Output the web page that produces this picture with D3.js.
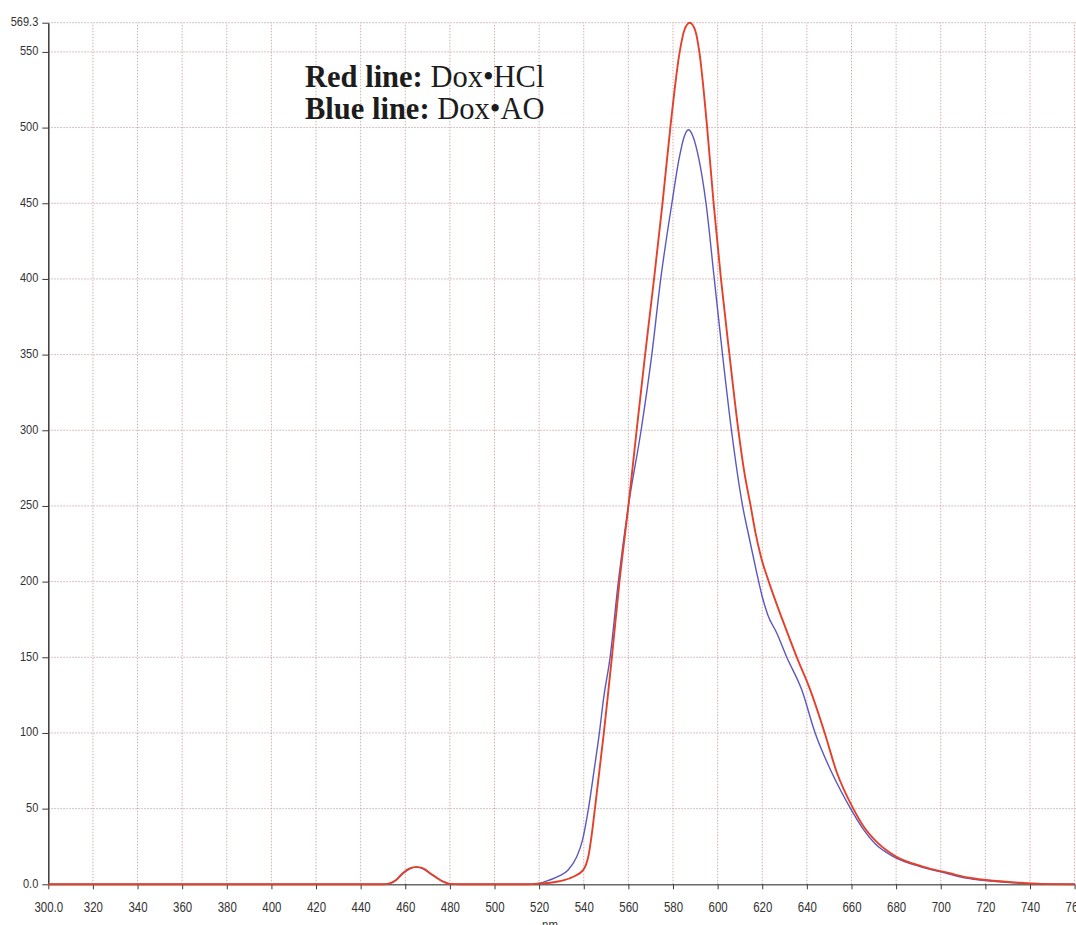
<!DOCTYPE html>
<html>
<head>
<meta charset="utf-8">
<script src="https://cdn.jsdelivr.net/npm/d3@7/dist/d3.min.js"></script>
<style>
  html, body { margin: 0; padding: 0; background: #fff; overflow: hidden; }
  svg { display: block; }
</style>
</head>
<body>
<script>
// Emission spectra, wavelength (nm) vs. intensity
const xTicks = [300, 320, 340, 360, 380, 400, 420, 440, 460, 480, 500, 520, 540, 560, 580, 600, 620, 640, 660, 680, 700, 720, 740, 760];
const yTicks = [0, 50, 100, 150, 200, 250, 300, 350, 400, 450, 500, 550, 569.3];
const yMax = 569.3;

// Dox•HCl
const redHCl = [
  [300, 0], [450, 0], [453, 0.6], [456, 3], [459, 7.5], [462, 10.5], [465, 11.5], [468, 10.5],
  [471, 7.5], [474, 4.5], [477, 1.8], [480, 0.3], [485, 0], [515, 0], [520, 0.5], [525, 1],
  [529, 2], [535.3, 5], [539.8, 9.5], [541, 13], [542, 18], [543.5, 32], [545, 50], [549, 100],
  [550.6, 121.8], [552.6, 150], [556, 200], [560, 250], [563.7, 300], [567.5, 350], [571.5, 400],
  [575.3, 450], [578.8, 500], [583, 550], [585, 564], [587.5, 569.3], [590, 564], [591.8, 550],
  [595.3, 500], [598.2, 450], [601.5, 400], [605.3, 350], [609.3, 300], [612, 272], [614.8, 250],
  [617, 232], [619.5, 216], [622.7, 201], [629, 175], [635.5, 150], [641.5, 128.5], [648, 100],
  [653.4, 74], [660.8, 50], [666, 37], [672, 27], [680, 18.3], [692, 11.7], [704, 7.3], [712, 4.5],
  [720.6, 2.8], [735.5, 1], [745, 0.3], [760, 0]
];

// Dox•AO
const blueAO = [
  [300, 0], [450, 0], [453, 0.5], [456, 2.8], [459, 7.2], [462, 10.2], [465, 11.2], [468, 10.2],
  [471, 7.2], [474, 4.3], [477, 1.7], [480, 0.3], [485, 0], [515, 0], [520, 0.6], [525, 3],
  [529, 5.5], [533, 9.5], [536.8, 18], [539.4, 29], [542.1, 50], [544.6, 75], [547, 100],
  [548.8, 121.8], [551.8, 150], [555.5, 200], [560, 250], [565.7, 300], [570.5, 350],
  [574.5, 400], [579.5, 450], [582.8, 480], [585, 494], [587, 498.6], [589, 494], [591.5, 480],
  [594.8, 450], [598.5, 400], [602.2, 350], [606.2, 300], [611.2, 250], [614.3, 228],
  [617.5, 206], [620, 190], [622.5, 178], [626.5, 166], [631, 150], [637.7, 128.5], [643.7, 100],
  [651.1, 74], [659.6, 50], [665, 37], [670.5, 27], [678.8, 18.3], [690.7, 11.7], [702.6, 7.3],
  [710, 4.5], [717.7, 2.8], [735, 0.8], [745, 0.2], [760, 0]
];

const W = 1076, H = 925;
const svg = d3.select("body").append("svg").attr("width", W).attr("height", H);

const x = d3.scaleLinear().domain([300, 760]).range([48.3, 1074.6]);
const y = d3.scaleLinear().domain([0, yMax]).range([884.3, 22.7]);

// dotted grid
const grid = svg.append("g")
  .attr("stroke", "#d0adad")
  .attr("stroke-width", 1)
  .attr("stroke-dasharray", "1.5,1.5");
grid.selectAll("line.h").data(yTicks.filter(d => d > 0)).join("line")
  .attr("class", "h")
  .attr("x1", x(300)).attr("x2", W)
  .attr("y1", d => y(d)).attr("y2", d => y(d));
grid.selectAll("line.v").data(xTicks.filter(d => d > 300)).join("line")
  .attr("class", "v")
  .attr("x1", d => x(d)).attr("x2", d => x(d))
  .attr("y1", y(0)).attr("y2", y(yMax));

// axes
const axisColor = "#3a3a3a";
const yAxis = svg.append("g")
  .attr("transform", `translate(${x(300)},0)`)
  .call(d3.axisLeft(y).tickValues(yTicks).tickSize(6).tickSizeOuter(0)
    .tickFormat(d => (d === 0 || d === yMax) ? d.toFixed(1) : String(d)));
yAxis.select(".domain").attr("stroke", axisColor).attr("stroke-width", 1.5);
yAxis.selectAll(".tick line").attr("stroke", axisColor);
const ySx = 0.92;
yAxis.selectAll(".tick text")
  .attr("font-family", "'Liberation Sans', Arial, sans-serif")
  .attr("font-size", 12)
  .attr("fill", "#333")
  .attr("dy", null)
  .attr("y", 2.8)
  .attr("x", -10 / ySx)
  .attr("transform", `scale(${ySx},1)`);

const xAxis = svg.append("g")
  .attr("transform", `translate(0,${y(0)})`)
  .call(d3.axisBottom(x).tickValues(xTicks).tickSize(5).tickSizeOuter(0)
    .tickFormat(d => d === 300 ? "300.0" : String(d)));
xAxis.select(".domain").attr("stroke", "#6a6a6a").attr("stroke-width", 1.5);
xAxis.selectAll(".tick line").attr("stroke", axisColor);
const xSx = 0.74;
xAxis.selectAll(".tick text")
  .attr("font-family", "'Liberation Sans', Arial, sans-serif")
  .attr("font-size", 15.5)
  .attr("fill", "#333")
  .attr("dy", null)
  .attr("y", 27.5)
  .attr("transform", `scale(${xSx},1)`);

// unit label below the axis
svg.append("text")
  .attr("transform", `translate(550,930) scale(${xSx},1)`)
  .attr("text-anchor", "middle")
  .attr("font-family", "'Liberation Sans', Arial, sans-serif")
  .attr("font-size", 15.5)
  .attr("fill", "#333")
  .text("nm");

// spectra
const line = d3.line()
  .x(d => x(d[0]))
  .y(d => y(d[1]))
  .curve(d3.curveMonotoneX);

svg.append("path")
  .datum(blueAO)
  .attr("fill", "none")
  .attr("stroke", "#5a58c0")
  .attr("stroke-width", 1.4)
  .attr("d", line);

svg.append("path")
  .datum(redHCl)
  .attr("fill", "none")
  .attr("stroke", "#e5402a")
  .attr("stroke-width", 1.9)
  .attr("d", line);

// legend text, one element per line
const legendFont = "'Liberation Serif', 'Times New Roman', serif";
const legendRows = [
  { y: 86.5, bold: "Red line: ", rest: "Dox•HCl" },
  { y: 119, bold: "Blue line: ", rest: "Dox•AO" }
];
legendRows.forEach(r => {
  const t = svg.append("text")
    .attr("x", 305).attr("y", r.y)
    .attr("font-family", legendFont)
    .attr("font-size", 30.5)
    .attr("fill", "#1c1c1c");
  t.append("tspan").attr("font-weight", "bold").text(r.bold);
  t.append("tspan").text(r.rest);
});
</script>
</body>
</html>
